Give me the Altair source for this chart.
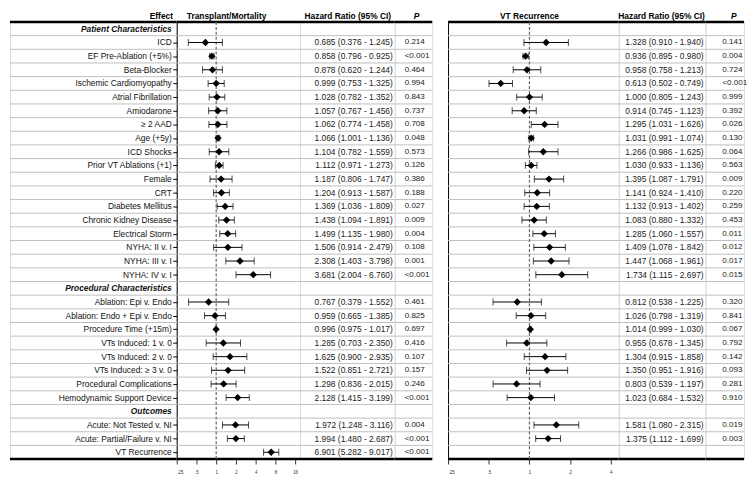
import altair as alt
import pandas as pd

FONT = "Liberation Sans"

effects = [
    "Patient Characteristics", "ICD", "EF Pre-Ablation (+5%)", "Beta-Blocker",
    "Ischemic Cardiomyopathy", "Atrial Fibrillation", "Amiodarone", "\u2265 2 AAD",
    "Age (+5y)", "ICD Shocks", "Prior VT Ablations (+1)", "Female", "CRT",
    "Diabetes Mellitus", "Chronic Kidney Disease", "Electrical Storm",
    "NYHA: II v. I", "NYHA: III v. I", "NYHA: IV v. I",
    "Procedural Characteristics", "Ablation: Epi v. Endo", "Ablation: Endo + Epi v. Endo",
    "Procedure Time (+15m)", "VTs Induced: 1 v. 0", "VTs Induced: 2 v. 0",
    "VTs Induced: \u2265 3 v. 0", "Procedural Complications", "Hemodynamic Support Device",
    "Outcomes", "Acute: Not Tested v. NI", "Acute: Partial/Failure v. NI", "VT Recurrence",
]
header_rows = [0, 19, 28]

# Transplant / Mortality
tm_hr = [None, 0.685, 0.858, 0.878, 0.999, 1.028, 1.057, 1.062, 1.066, 1.104, 1.112, 1.187, 1.204,
         1.369, 1.438, 1.499, 1.506, 2.308, 3.681,
         None, 0.767, 0.959, 0.996, 1.285, 1.625, 1.522, 1.298, 2.128,
         None, 1.972, 1.994, 6.901]
tm_lo = [None, 0.376, 0.796, 0.620, 0.753, 0.782, 0.767, 0.774, 1.001, 0.782, 0.971, 0.806, 0.913,
         1.036, 1.094, 1.135, 0.914, 1.403, 2.004,
         None, 0.379, 0.665, 0.975, 0.703, 0.900, 0.851, 0.836, 1.415,
         None, 1.248, 1.480, 5.282]
tm_hi = [None, 1.245, 0.925, 1.244, 1.325, 1.352, 1.456, 1.458, 1.136, 1.559, 1.273, 1.747, 1.587,
         1.809, 1.891, 1.980, 2.479, 3.798, 6.760,
         None, 1.552, 1.385, 1.017, 2.350, 2.935, 2.721, 2.015, 3.199,
         None, 3.116, 2.687, 9.017]
tm_p = ["", "0.214", "<0.001", "0.464", "0.994", "0.843", "0.737", "0.708", "0.048", "0.573", "0.126",
        "0.386", "0.188", "0.027", "0.009", "0.004", "0.108", "0.001", "<0.001",
        "", "0.461", "0.825", "0.697", "0.416", "0.107", "0.157", "0.246", "<0.001",
        "", "0.004", "<0.001", "<0.001"]

# VT Recurrence
vt_hr = [None, 1.328, 0.936, 0.958, 0.613, 1.000, 0.914, 1.295, 1.031, 1.266, 1.030, 1.395, 1.141,
         1.132, 1.083, 1.285, 1.409, 1.447, 1.734,
         None, 0.812, 1.026, 1.014, 0.955, 1.304, 1.350, 0.803, 1.023,
         None, 1.581, 1.375, None]
vt_lo = [None, 0.910, 0.895, 0.758, 0.502, 0.805, 0.745, 1.031, 0.991, 0.986, 0.933, 1.087, 0.924,
         0.913, 0.880, 1.060, 1.078, 1.068, 1.115,
         None, 0.538, 0.798, 0.999, 0.678, 0.915, 0.951, 0.539, 0.684,
         None, 1.080, 1.112, None]
vt_hi = [None, 1.940, 0.980, 1.213, 0.749, 1.243, 1.123, 1.626, 1.074, 1.625, 1.136, 1.791, 1.410,
         1.402, 1.332, 1.557, 1.842, 1.961, 2.697,
         None, 1.225, 1.319, 1.030, 1.345, 1.858, 1.916, 1.197, 1.532,
         None, 2.315, 1.699, None]
vt_p = ["", "0.141", "0.004", "0.724", "<0.001", "0.999", "0.392", "0.026", "0.130", "0.064", "0.563",
        "0.009", "0.220", "0.259", "0.453", "0.011", "0.012", "0.017", "0.015",
        "", "0.320", "0.841", "0.067", "0.792", "0.142", "0.093", "0.281", "0.910",
        "", "0.019", "0.003", ""]

tm_ticks = [0.25, 0.5, 1, 2, 4, 8, 16]
vt_ticks = [0.25, 0.5, 1, 2, 4]

N = len(effects)


def ci_text(h, l, u):
    return "" if h is None else f"{h:.3f} ({l:.3f} - {u:.3f})"


df = pd.DataFrame({
    "row": list(range(N)),
    "effect": effects,
    "header": [i in header_rows for i in range(N)],
    "tm_hr": tm_hr, "tm_lo": tm_lo, "tm_hi": tm_hi, "tm_p": tm_p,
    "tm_txt": [ci_text(h, l, u) for h, l, u in zip(tm_hr, tm_lo, tm_hi)],
    "vt_hr": vt_hr, "vt_lo": vt_lo, "vt_hi": vt_hi, "vt_p": vt_p,
    "vt_txt": [ci_text(h, l, u) for h, l, u in zip(vt_hr, vt_lo, vt_hi)],
})
grid_df = pd.DataFrame({"row": [k + 0.5 for k in range(N - 1)]})
edge_df = pd.DataFrame({"row": [-0.5, N - 0.5]})
one_df = pd.DataFrame({"ref": [1.0]})

H = 443
YSCALE = alt.Scale(domain=[-0.5, N - 0.5], reverse=True, nice=False, zero=False)


def Y(axis=None):
    return alt.Y("row:Q", scale=YSCALE, axis=axis)


def title(text, anchor, dx=0, italic=False):
    kw = dict(text=text, anchor=anchor, dx=dx, fontSize=8.5, font=FONT, fontWeight="bold",
              offset=0, color="black")
    if italic:
        kw["fontStyle"] = "italic"
    return alt.TitleParams(**kw)


def frame(axis=None):
    g = alt.Chart(grid_df).mark_rule(color="#bfbfbf", strokeWidth=1).encode(y=Y(axis))
    e = alt.Chart(edge_df).mark_rule(color="black", strokeWidth=2.5).encode(y=Y(axis))
    return [g, e]


def label_col(width):
    base = alt.Chart(df)
    normal = base.transform_filter("!datum.header").mark_text(
        align="right", baseline="middle", fontSize=8.5, font=FONT, color="#111"
    ).encode(y=Y(), x=alt.value(width - 5), text="effect:N")
    head = base.transform_filter("datum.header").mark_text(
        align="right", baseline="middle", fontSize=8.5, font=FONT, color="#111",
        fontWeight="bold", fontStyle="italic"
    ).encode(y=Y(), x=alt.value(width - 5), text="effect:N")
    return alt.layer(*frame(), normal, head).properties(
        width=width, height=H, title=title("Effect", "end", -5))


def text_col(field, width, xpos, align, head, anchor, dx, italic=False, size=8.5):
    t = alt.Chart(df).mark_text(
        align=align, baseline="middle", fontSize=size, font=FONT, color="#222"
    ).encode(y=Y(), x=alt.value(xpos), text=f"{field}:N")
    return alt.layer(*frame(), t).properties(
        width=width, height=H, title=title(head, anchor, dx, italic))


def forest(prefix, width, dmax, ticks, head, dx, yticks):
    xs = alt.Scale(type="log", base=2, domain=[0.25, dmax], nice=False, zero=False)
    xaxis = alt.Axis(values=ticks, title=None, grid=False, domain=False,
                     tickColor="black", tickWidth=0.8, tickSize=5,
                     labelFontSize=4.5, labelFont=FONT, labelColor="#333", labelPadding=6,
                     labelExpr="datum.value < 1 ? slice(format(datum.value, '~g'), 1) : format(datum.value, '~g')")
    yaxis = alt.Axis(values=[i for i in range(N) if i not in header_rows] if yticks else [],
                     labels=False, ticks=yticks, tickSize=4, tickColor="black", tickWidth=1,
                     domain=True, domainColor="black", domainWidth=1, grid=False, title=None)

    def X(f):
        return alt.X(f"{f}:Q", scale=xs, axis=xaxis)

    d = alt.Chart(df).transform_filter(f"isValid(datum.{prefix}_hr)")
    ref = alt.Chart(one_df).mark_rule(color="#666", strokeWidth=1.2, strokeDash=[3, 2]).encode(x=X("ref"))
    bar = d.mark_rule(color="black", strokeWidth=1).encode(
        x=X(f"{prefix}_lo"), x2=alt.X2(f"{prefix}_hi:Q"), y=Y(yaxis))
    cap_lo = d.mark_tick(orient="vertical", size=7, thickness=1, color="black").encode(
        x=X(f"{prefix}_lo"), y=Y(yaxis))
    cap_hi = d.mark_tick(orient="vertical", size=7, thickness=1, color="black").encode(
        x=X(f"{prefix}_hi"), y=Y(yaxis))
    pt = d.mark_point(shape="diamond", filled=True, size=55, color="black", opacity=1).encode(
        x=X(f"{prefix}_hr"), y=Y(yaxis))
    return alt.layer(*frame(yaxis), ref, bar, cap_lo, cap_hi, pt).properties(
        width=width, height=H, title=title(head, "middle", dx))


spacer = alt.Chart(one_df).mark_point(opacity=0).properties(width=16, height=H)

cells = [
    label_col(169),
    forest("tm", 125, 2 ** 4.25, tm_ticks, "Transplant/Mortality", -12, True),
    text_col("tm_txt", 96, 94, "right", "Hazard Ratio (95% CI)", "end", -5),
    text_col("tm_p", 38, 10, "left", "P", "middle", 3, True, 8.2),
    spacer,
    forest("vt", 173, 2 ** (-2 + 173 / 41.25), vt_ticks, "VT Recurrence", -4, False),
    text_col("vt_txt", 88, 86, "right", "Hazard Ratio (95% CI)", "end", -2),
    text_col("vt_p", 39, 17, "left", "P", "middle", 9, True, 8.2),
]

chart = alt.hconcat(*cells, spacing=0).properties(
    bounds="flush", padding=0
).configure_view(stroke=None).configure(background="white")

chart.save("out.html", embed_options={"renderer": "svg", "actions": False})
